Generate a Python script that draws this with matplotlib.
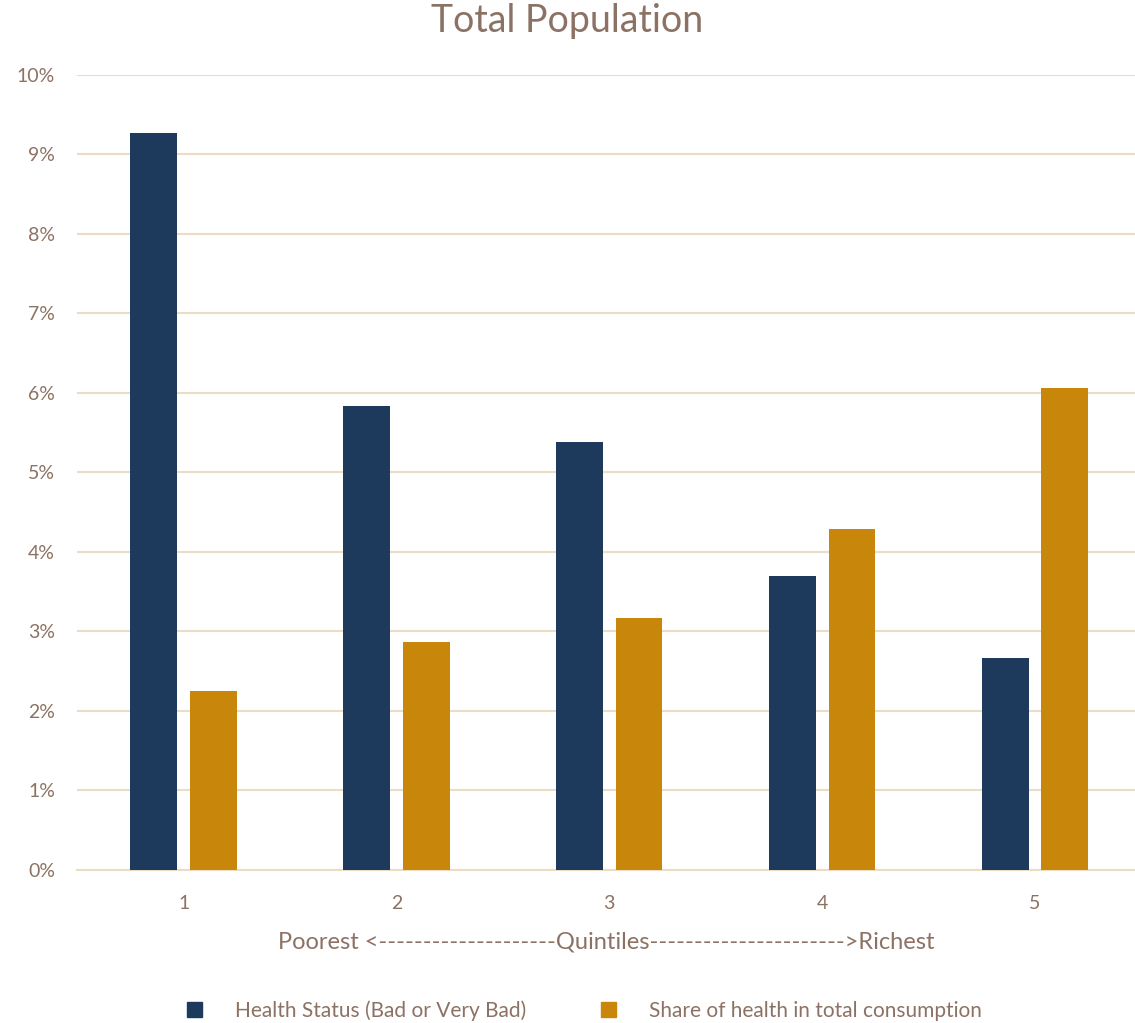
import numpy as np
import matplotlib.pyplot as plt
from matplotlib.ticker import PercentFormatter
from matplotlib.patches import Patch

# data
quintiles = ['1', '2', '3', '4', '5']
health_status = [9.27, 5.84, 5.38, 3.70, 2.67]
health_share = [2.25, 2.87, 3.17, 4.29, 6.06]
series_names = ['Health Status (Bad or Very Bad)', 'Share of health in total consumption']

navy = '#1D3A5C'
gold = '#C8860B'
txt = '#8C7264'
grid = '#EBDDC3'

plt.rcParams['font.family'] = ['Lato', 'DejaVu Sans']

fig = plt.figure(figsize=(11.35, 10.23), dpi=100)
ax = fig.add_axes([0.068, 0.1496, 0.932, 0.7771])

x = np.arange(len(quintiles))
w = 0.22
ax.bar(x - 0.14, health_status, width=w, color=navy, zorder=3)
ax.bar(x + 0.14, health_share, width=w, color=gold, zorder=3)

ax.set_xlim(-0.5, 4.47)
ax.set_ylim(0, 10)
ax.set_yticks(np.arange(0, 10.1, 1))
ax.yaxis.set_major_formatter(PercentFormatter(decimals=0))
ax.set_xticks(x)
ax.set_xticklabels(quintiles)
ax.grid(axis='y', color=grid, linewidth=1.5, zorder=0)
for s in ['top', 'right', 'left']:
    ax.spines[s].set_visible(False)
ax.spines['bottom'].set_color(grid)
ax.spines['bottom'].set_linewidth(1.5)
ax.tick_params(axis='both', length=0, colors=txt, labelsize=14)
ax.tick_params(axis='x', pad=18)
ax.tick_params(axis='y', pad=16)

fig.suptitle('Total Population', color=txt, fontsize=27, x=0.5, y=0.979, va='center')
ax.set_xlabel('Poorest <--------------------Quintiles---------------------->Richest',
              color=txt, fontsize=17, labelpad=14)

handles = [Patch(color=navy), Patch(color=gold)]
fig.legend(handles, series_names, loc='center', bbox_to_anchor=(0.515, 0.012),
           ncol=2, frameon=False, fontsize=15, labelcolor=txt,
           handlelength=0.7, handleheight=0.7, columnspacing=3.6, handletextpad=1.6)

fig.savefig('out.png', dpi=100)
